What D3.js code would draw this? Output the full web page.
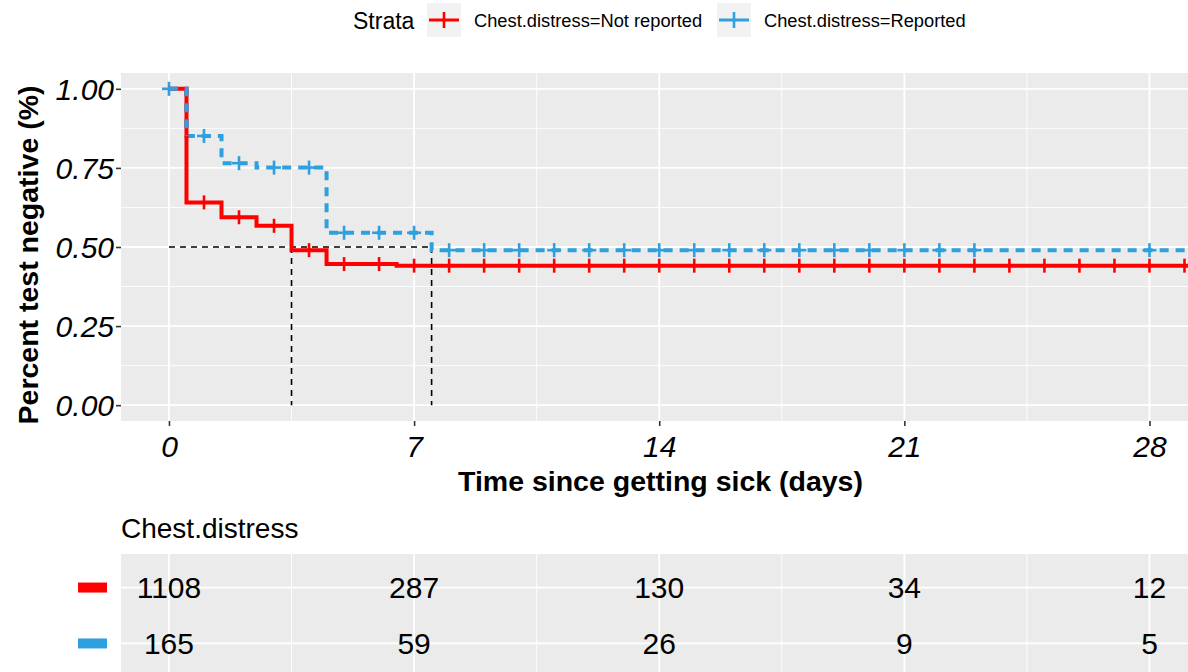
<html>
  <script src="https://d3js.org/d3.v7.min.js"></script>
  <body style="margin:0; background:white;">
    <div id="svgcontainer"></div>
    <script>
      // data
      var strata = ["Chest.distress=Not reported", "Chest.distress=Reported"];
      var colors = ["#FF0000", "#2E9FDF"];

      // step curves: [time, survival]
      var stepsNotReported = [[0, 1.0], [0.5, 0.641], [1.5, 0.594], [2.5, 0.567],
                              [3.5, 0.490], [4.5, 0.446], [6.5, 0.441], [30, 0.441]];
      var stepsReported = [[0, 1.0], [0.5, 0.851], [1.5, 0.765], [2.5, 0.751],
                           [4.5, 0.545], [7.5, 0.490], [30, 0.490]];

      // censor times
      var censorNotReported = [1, 2, 3, 4, 5, 6, 7, 8, 9, 10, 11, 12, 13, 14, 15, 16, 17, 18,
                               19, 20, 21, 22, 23, 24, 25, 26, 27, 28, 29];
      var censorReported = [0, 1, 2, 3, 4, 5, 6, 7, 8, 9, 10, 11, 12, 13, 14, 15, 16, 17, 18,
                            19, 20, 21, 22, 23, 28];

      // median survival
      var medians = [3.5, 7.5];

      var xTicks = [0, 7, 14, 21, 28];
      var yTicks = [0, 0.25, 0.5, 0.75, 1];
      var yTickLabels = ["0.00", "0.25", "0.50", "0.75", "1.00"];

      // numbers at risk
      var riskTimes = [0, 7, 14, 21, 28];
      var riskNotReported = [1108, 287, 130, 34, 12];
      var riskReported = [165, 59, 26, 9, 5];

      var width = 1188;
      var height = 672;
      var font = "'Liberation Sans', Arial, sans-serif";
      var svg = d3.select("#svgcontainer")
        .append("svg").attr("width", width).attr("height", height)
        .style("font-family", font);

      var panelL = 121, panelR = 1188, panelT = 73, panelB = 421;

      var x = d3.scaleLinear().domain([-1.37, 29.1]).range([panelL, panelR]);
      var y = d3.scaleLinear().domain([-0.05, 1.05]).range([panelB, panelT]);

      svg.append("defs").append("clipPath").attr("id", "clip")
        .append("rect").attr("x", panelL).attr("y", panelT)
        .attr("width", panelR - panelL).attr("height", panelB - panelT);

      // panel
      svg.append("rect")
        .attr("x", panelL).attr("y", panelT)
        .attr("width", panelR - panelL).attr("height", panelB - panelT)
        .attr("fill", "#EBEBEB");

      var grid = svg.append("g");
      // minor grid
      [3.5, 10.5, 17.5, 24.5].forEach(function(t) {
        grid.append("line").attr("x1", x(t)).attr("x2", x(t))
          .attr("y1", panelT).attr("y2", panelB)
          .attr("stroke", "white").attr("stroke-width", 0.9);
      });
      [0.125, 0.375, 0.625, 0.875].forEach(function(v) {
        grid.append("line").attr("x1", panelL).attr("x2", panelR)
          .attr("y1", y(v)).attr("y2", y(v))
          .attr("stroke", "white").attr("stroke-width", 0.9);
      });
      // major grid
      xTicks.forEach(function(t) {
        grid.append("line").attr("x1", x(t)).attr("x2", x(t))
          .attr("y1", panelT).attr("y2", panelB)
          .attr("stroke", "white").attr("stroke-width", 1.8);
      });
      yTicks.forEach(function(v) {
        grid.append("line").attr("x1", panelL).attr("x2", panelR)
          .attr("y1", y(v)).attr("y2", y(v))
          .attr("stroke", "white").attr("stroke-width", 1.8);
      });

      // axes
      var xAxis = svg.append("g")
        .attr("transform", "translate(0," + panelB + ")")
        .call(d3.axisBottom(x).tickValues(xTicks).tickSize(5).tickPadding(3));
      var yAxis = svg.append("g")
        .attr("transform", "translate(" + panelL + ",0)")
        .call(d3.axisLeft(y).tickValues(yTicks).tickSize(5).tickPadding(2)
          .tickFormat(function(d, i) { return yTickLabels[i]; }));
      [xAxis, yAxis].forEach(function(a) {
        a.select(".domain").remove();
        a.selectAll("line").attr("stroke", "#333").attr("stroke-width", 1.6);
        a.selectAll("text").attr("fill", "black").style("font-size", "30px")
          .style("font-style", "italic").style("font-family", font);
      });
      xAxis.selectAll("text").attr("dy", "0.92em");
      yAxis.selectAll("text").attr("dy", "0.36em");

      // axis titles
      svg.append("text")
        .attr("x", (panelL + panelR) / 2 + 6).attr("y", 491)
        .attr("text-anchor", "middle")
        .style("font-size", "28.5px").style("font-weight", "bold")
        .text("Time since getting sick (days)");
      svg.append("text")
        .attr("transform", "translate(38," + ((panelT + panelB) / 2 + 8) + ") rotate(-90)")
        .attr("text-anchor", "middle")
        .style("font-size", "28.5px").style("font-weight", "bold")
        .text("Percent test negative (%)");

      var plot = svg.append("g").attr("clip-path", "url(#clip)");

      // median lines
      var medLine = d3.line().x(function(d) { return x(d[0]); }).y(function(d) { return y(d[1]); });
      plot.append("path")
        .attr("d", medLine([[0, 0.5], [d3.max(medians), 0.5]]))
        .attr("stroke", "black").attr("stroke-width", 1.6)
        .attr("stroke-dasharray", "6,5").attr("fill", "none");
      medians.forEach(function(m) {
        plot.append("path")
          .attr("d", medLine([[m, 0.5], [m, 0]]))
          .attr("stroke", "black").attr("stroke-width", 1.6)
          .attr("stroke-dasharray", "6,5").attr("fill", "none");
      });

      var stepLine = d3.line().curve(d3.curveStepAfter)
        .x(function(d) { return x(d[0]); })
        .y(function(d) { return y(d[1]); });

      function survAt(steps, t) {
        var s = steps[0][1];
        steps.forEach(function(d) { if (d[0] <= t) s = d[1]; });
        return s;
      }

      function drawCurve(steps, censor, color, dashed) {
        plot.append("path")
          .attr("d", stepLine(steps))
          .attr("stroke", color).attr("stroke-width", 4)
          .attr("stroke-dasharray", dashed ? "9,7" : null)
          .attr("fill", "none");
        var g = plot.append("g");
        censor.forEach(function(t) {
          var cx = x(t), cy = y(survAt(steps, t));
          g.append("line").attr("x1", cx - 7).attr("x2", cx + 7)
            .attr("y1", cy).attr("y2", cy)
            .attr("stroke", color).attr("stroke-width", 2.6);
          g.append("line").attr("x1", cx).attr("x2", cx)
            .attr("y1", cy - 7).attr("y2", cy + 7)
            .attr("stroke", color).attr("stroke-width", 2.6);
        });
      }
      drawCurve(stepsReported, censorReported, colors[1], true);
      drawCurve(stepsNotReported, censorNotReported, colors[0], false);
      // blue drawn again on top where it overlaps at the start
      plot.append("path")
        .attr("d", stepLine(stepsReported.slice(0, 2)))
        .attr("stroke", colors[1]).attr("stroke-width", 4)
        .attr("stroke-dasharray", "9,7").attr("fill", "none");

      // legend
      var legend = svg.append("g");
      legend.append("text").attr("x", 353).attr("y", 29)
        .style("font-size", "23px").text("Strata");
      var keyX = [427, 717];
      strata.forEach(function(s, i) {
        var kx = keyX[i];
        legend.append("rect").attr("x", kx).attr("y", 3)
          .attr("width", 34).attr("height", 34).attr("fill", "#F2F2F2");
        legend.append("line").attr("x1", kx + 2).attr("x2", kx + 32)
          .attr("y1", 20).attr("y2", 20)
          .attr("stroke", colors[i]).attr("stroke-width", 3);
        legend.append("line").attr("x1", kx + 17).attr("x2", kx + 17)
          .attr("y1", 12).attr("y2", 28)
          .attr("stroke", colors[i]).attr("stroke-width", 2.6);
        legend.append("text").attr("x", kx + 47).attr("y", 27)
          .style("font-size", "18.3px").text(s);
      });

      // risk table
      var tT = 554, tB = 677;
      var yr = d3.scalePoint().domain(strata).range([tT, tB]).padding(0.6);
      svg.append("text").attr("x", panelL).attr("y", 538)
        .style("font-size", "28px").text("Chest.distress");
      svg.append("rect").attr("x", panelL).attr("y", tT)
        .attr("width", panelR - panelL).attr("height", tB - tT)
        .attr("fill", "#EBEBEB");
      [3.5, 10.5, 17.5, 24.5].forEach(function(t) {
        svg.append("line").attr("x1", x(t)).attr("x2", x(t))
          .attr("y1", tT).attr("y2", tB)
          .attr("stroke", "white").attr("stroke-width", 0.9);
      });
      xTicks.forEach(function(t) {
        svg.append("line").attr("x1", x(t)).attr("x2", x(t))
          .attr("y1", tT).attr("y2", tB)
          .attr("stroke", "white").attr("stroke-width", 1.8);
      });
      strata.forEach(function(s) {
        svg.append("line").attr("x1", panelL).attr("x2", panelR)
          .attr("y1", yr(s)).attr("y2", yr(s))
          .attr("stroke", "white").attr("stroke-width", 1.8);
      });
      var riskRows = [riskNotReported, riskReported];
      strata.forEach(function(s, i) {
        svg.append("rect").attr("x", 78).attr("y", yr(s) - 5)
          .attr("width", 29).attr("height", 10).attr("fill", colors[i]);
        riskRows[i].forEach(function(n, j) {
          svg.append("text")
            .attr("x", x(riskTimes[j])).attr("y", yr(s))
            .attr("dy", "0.36em").attr("text-anchor", "middle")
            .style("font-size", "30px").text(n);
        });
      });
    </script>
  </body>
</html>
